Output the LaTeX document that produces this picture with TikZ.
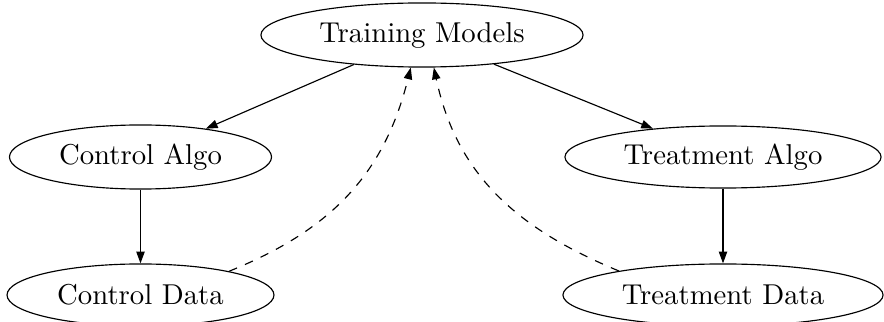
\documentclass[tikz,border=0pt]{standalone}
\usetikzlibrary{shapes.geometric,arrows.meta}
\begin{document}
\begin{tikzpicture}[x=0.348pt,y=0.348pt,
  ell/.style={ellipse,draw,inner sep=0pt,font=\normalsize},
  arr/.style={-{Triangle[length=4.1pt,width=2.9pt]}},
  darr/.style={arr,dashed}]
\useasboundingbox (0,0) rectangle (884,322);
\node[ell,minimum width=112.1pt,minimum height=22.3pt] (tm) at (422,287) {Training Models};
\node[ell,minimum width=91.2pt,minimum height=22.3pt] (ca) at (140.5,165) {Control Algo};
\node[ell,minimum width=110pt,minimum height=21.6pt] (ta) at (723,165) {Treatment Algo};
\node[ell,minimum width=92.9pt,minimum height=21.6pt] (cd) at (140.5,27) {Control Data};
\node[ell,minimum width=111.4pt,minimum height=21.6pt] (td) at (723,27) {Treatment Data};
\draw[arr] (tm) -- (ca);
\draw[arr] (tm) -- (ta);
\draw[arr] (ca) -- (cd);
\draw[arr] (ta) -- (td);
\draw[darr] (cd.15) .. controls +(22:110) and +(-104:110) .. (tm.-109);
\draw[darr] (td.167) .. controls +(157.5:110) and +(-78:110) .. (tm.-70);
\end{tikzpicture}
\end{document}
